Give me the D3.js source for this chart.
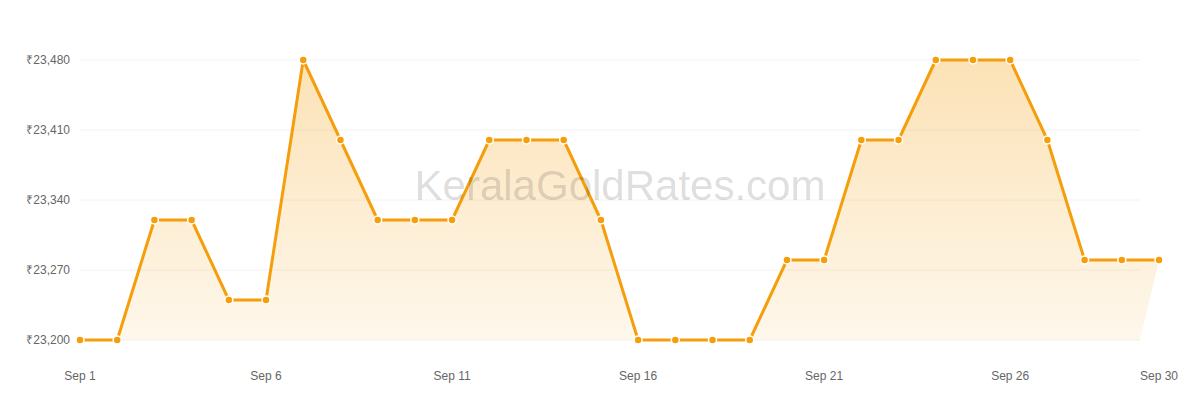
<!DOCTYPE html>
<html>
<head>
<meta charset="utf-8">
<script src="https://cdn.jsdelivr.net/npm/d3@7"></script>
<style>
  body { margin: 0; background: #fff; }
  text { font-family: "Liberation Sans", Arial, sans-serif; }
</style>
</head>
<body>
<div id="chart"></div>
<script>
// daily gold rate, September
const days = d3.range(1, 31);
const rates = [23200, 23200, 23320, 23320, 23240, 23240, 23480, 23400, 23320, 23320,
               23320, 23400, 23400, 23400, 23320, 23200, 23200, 23200, 23200, 23280,
               23280, 23400, 23400, 23480, 23480, 23480, 23400, 23280, 23280, 23280];
const yTicks = [23200, 23270, 23340, 23410, 23480];
const xTicks = [1, 6, 11, 16, 21, 26, 30];

const width = 1200, height = 400;
const color = "#f59e0b";

const svg = d3.select("#chart").append("svg")
    .attr("width", width)
    .attr("height", height);

const x = d3.scaleLinear().domain([1, 30]).range([80, 1159]);
const y = d3.scaleLinear().domain([23200, 23480]).range([340, 60]);
const gridRight = 1140;

const data = days.map((d, i) => ({day: d, rate: rates[i]}));

const defs = svg.append("defs");
const grad = defs.append("linearGradient")
    .attr("id", "fillGrad")
    .attr("x1", 0).attr("y1", 0).attr("x2", 0).attr("y2", 1)
    .attr("gradientUnits", "userSpaceOnUse")
    .attr("y1", y(23480)).attr("y2", y(23200));
grad.append("stop").attr("offset", 0).attr("stop-color", color).attr("stop-opacity", 0.3);
grad.append("stop").attr("offset", 1).attr("stop-color", color).attr("stop-opacity", 0.08);

// grid
svg.append("g").selectAll("line")
    .data(yTicks)
    .enter().append("line")
    .attr("x1", x(1)).attr("x2", gridRight)
    .attr("y1", d => y(d)).attr("y2", d => y(d))
    .attr("stroke", "#f2f2f2")
    .attr("stroke-width", 1);

// y labels
svg.append("g").selectAll("text")
    .data(yTicks)
    .enter().append("text")
    .attr("x", 70)
    .attr("y", d => y(d))
    .attr("dy", "0.35em")
    .attr("text-anchor", "end")
    .attr("fill", "#666")
    .style("font-size", "12px")
    .text(d => "₹" + d3.format(",")(d));

// x labels
svg.append("g").selectAll("text")
    .data(xTicks)
    .enter().append("text")
    .attr("x", d => x(d))
    .attr("y", 380)
    .attr("text-anchor", "middle")
    .attr("fill", "#666")
    .style("font-size", "12px")
    .text(d => "Sep " + d);

// area (baseline ends at the grid's right edge)
const pts = data.map(d => [x(d.day), y(d.rate)]);
pts.push([gridRight, y(23200)], [x(1), y(23200)]);
svg.append("path")
    .attr("d", "M" + pts.join("L") + "Z")
    .attr("fill", "url(#fillGrad)");

// line
const line = d3.line().x(d => x(d.day)).y(d => y(d.rate));
svg.append("path")
    .datum(data)
    .attr("d", line)
    .attr("fill", "none")
    .attr("stroke", color)
    .attr("stroke-width", 3)
    .attr("stroke-linejoin", "round");

// points
svg.append("g").selectAll("circle")
    .data(data)
    .enter().append("circle")
    .attr("cx", d => x(d.day))
    .attr("cy", d => y(d.rate))
    .attr("r", 4)
    .attr("fill", color)
    .attr("stroke", "#fff")
    .attr("stroke-width", 1.5);

// watermark
svg.append("text")
    .attr("x", 620)
    .attr("y", 200)
    .attr("text-anchor", "middle")
    .attr("fill", "#000")
    .attr("fill-opacity", 0.15)
    .style("font-size", "42px")
    .text("KeralaGoldRates.com");
</script>
</body>
</html>
